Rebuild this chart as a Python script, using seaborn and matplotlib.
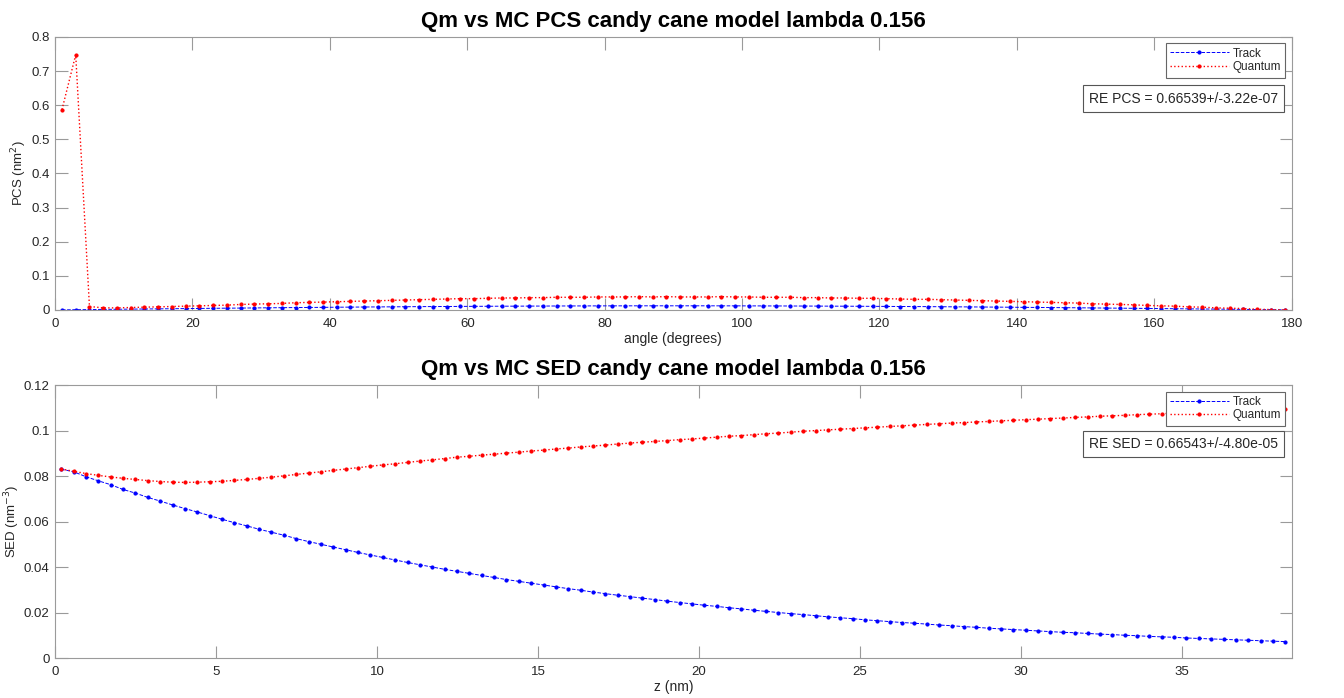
import numpy as np
import pandas as pd
import matplotlib
matplotlib.use('Agg')
import matplotlib.pyplot as plt
from matplotlib.ticker import FuncFormatter
import seaborn as sns

# ---- data ----
angle_deg = list(range(1, 180, 2))

pcs_track = [
    0.0002, 0.0006, 0.0010, 0.0015, 0.0019, 0.0023, 0.0027, 0.0031, 0.0035, 0.0039,
    0.0043, 0.0047, 0.0051, 0.0054, 0.0058, 0.0062, 0.0065, 0.0069, 0.0072, 0.0075,
    0.0079, 0.0082, 0.0085, 0.0088, 0.0090, 0.0093, 0.0096, 0.0098, 0.0100, 0.0103,
    0.0105, 0.0107, 0.0109, 0.0110, 0.0112, 0.0113, 0.0115, 0.0116, 0.0117, 0.0118,
    0.0119, 0.0119, 0.0120, 0.0120, 0.0120, 0.0120, 0.0120, 0.0120, 0.0119, 0.0119,
    0.0118, 0.0117, 0.0116, 0.0115, 0.0113, 0.0112, 0.0110, 0.0109, 0.0107, 0.0105,
    0.0103, 0.0100, 0.0098, 0.0096, 0.0093, 0.0090, 0.0088, 0.0085, 0.0082, 0.0079,
    0.0075, 0.0072, 0.0069, 0.0065, 0.0062, 0.0058, 0.0054, 0.0051, 0.0047, 0.0043,
    0.0039, 0.0035, 0.0031, 0.0027, 0.0023, 0.0019, 0.0015, 0.0010, 0.0006, 0.0002,
]

pcs_quantum = [
    0.587, 0.748, 0.010, 0.006, 0.006, 0.007, 0.008, 0.009, 0.010, 0.011,
    0.012, 0.013, 0.014, 0.016, 0.017, 0.018, 0.019, 0.021, 0.022, 0.023,
    0.024, 0.025, 0.026, 0.027, 0.028, 0.029, 0.030, 0.031, 0.032, 0.033,
    0.033, 0.034, 0.035, 0.035, 0.036, 0.036, 0.037, 0.037, 0.037, 0.038,
    0.038, 0.038, 0.039, 0.038, 0.039, 0.038, 0.038, 0.038, 0.039, 0.038,
    0.038, 0.037, 0.037, 0.037, 0.036, 0.036, 0.035, 0.035, 0.034, 0.034,
    0.033, 0.032, 0.031, 0.031, 0.030, 0.029, 0.028, 0.027, 0.026, 0.025,
    0.024, 0.023, 0.022, 0.021, 0.020, 0.018, 0.017, 0.016, 0.015, 0.013,
    0.012, 0.011, 0.009, 0.008, 0.006, 0.005, 0.004, 0.002, 0.001, 0.000,
]

# z grid: 100 bin centres, bin width 0.384 nm
z_nm = np.round(np.arange(100) * 0.384 + 0.192, 3)

sed_track = [
    0.0830, 0.0819, 0.0797, 0.0779, 0.0762, 0.0741, 0.0725, 0.0706, 0.0690, 0.0673,
    0.0657, 0.0642, 0.0626, 0.0610, 0.0595, 0.0581, 0.0566, 0.0553, 0.0540, 0.0525,
    0.0512, 0.0500, 0.0488, 0.0476, 0.0464, 0.0453, 0.0442, 0.0431, 0.0420, 0.0410,
    0.0400, 0.0390, 0.0381, 0.0372, 0.0363, 0.0354, 0.0345, 0.0337, 0.0329, 0.0321,
    0.0313, 0.0305, 0.0298, 0.0290, 0.0283, 0.0276, 0.0270, 0.0263, 0.0257, 0.0250,
    0.0244, 0.0238, 0.0232, 0.0227, 0.0221, 0.0216, 0.0210, 0.0205, 0.0200, 0.0195,
    0.0191, 0.0186, 0.0181, 0.0177, 0.0173, 0.0168, 0.0164, 0.0160, 0.0156, 0.0153,
    0.0149, 0.0145, 0.0142, 0.0138, 0.0135, 0.0131, 0.0128, 0.0125, 0.0122, 0.0119,
    0.0116, 0.0113, 0.0111, 0.0108, 0.0105, 0.0103, 0.0100, 0.0098, 0.0095, 0.0093,
    0.0091, 0.0088, 0.0086, 0.0084, 0.0082, 0.0080, 0.0078, 0.0076, 0.0074, 0.0072,
]

sed_quantum = [
    0.0831, 0.0821, 0.0811, 0.0803, 0.0796, 0.0790, 0.0785, 0.0780, 0.0776, 0.0773,
    0.0772, 0.0773, 0.0775, 0.0777, 0.0781, 0.0785, 0.0790, 0.0795, 0.0801, 0.0807,
    0.0813, 0.0819, 0.0825, 0.0831, 0.0837, 0.0843, 0.0849, 0.0854, 0.0860, 0.0866,
    0.0871, 0.0877, 0.0883, 0.0887, 0.0892, 0.0896, 0.0901, 0.0905, 0.0910, 0.0914,
    0.0919, 0.0923, 0.0928, 0.0932, 0.0936, 0.0941, 0.0945, 0.0949, 0.0952, 0.0956,
    0.0960, 0.0963, 0.0967, 0.0971, 0.0975, 0.0978, 0.0982, 0.0986, 0.0989, 0.0993,
    0.0997, 0.1000, 0.1003, 0.1006, 0.1009, 0.1012, 0.1015, 0.1018, 0.1021, 0.1024,
    0.1027, 0.1030, 0.1033, 0.1035, 0.1038, 0.1040, 0.1043, 0.1045, 0.1048, 0.1050,
    0.1053, 0.1055, 0.1058, 0.1060, 0.1063, 0.1065, 0.1067, 0.1070, 0.1072, 0.1074,
    0.1077, 0.1079, 0.1081, 0.1083, 0.1085, 0.1087, 0.1089, 0.1091, 0.1093, 0.1095,
]

pcs_note = 'RE PCS = 0.66539+/-3.22e-07'
sed_note = 'RE SED = 0.66543+/-4.80e-05'
title_pcs = 'Qm vs MC PCS candy cane model lambda 0.156'
title_sed = 'Qm vs MC SED candy cane model lambda 0.156'

# ---- style ----
sns.set_theme(style='white')
plt.rcParams['font.family'] = ['Liberation Sans', 'DejaVu Sans']
axis_grey = '#262626'
spine_grey = '#9a9a9a'

fig = plt.figure(figsize=(13.44, 6.98), dpi=100)
ax_top = fig.add_axes([0.041, 0.556, 0.920, 0.391])
ax_bot = fig.add_axes([0.041, 0.0573, 0.920, 0.391])

df_pcs = pd.DataFrame({'angle': angle_deg, 'Track': pcs_track, 'Quantum': pcs_quantum})
df_sed = pd.DataFrame({'z': z_nm, 'Track': sed_track, 'Quantum': sed_quantum})

track_kw = dict(color='blue', linestyle='--', linewidth=0.7, marker='.', markersize=4.5,
                markeredgecolor='blue', markerfacecolor='blue', label='Track')
quant_kw = dict(color='red', linestyle=':', linewidth=1.0, marker='.', markersize=4.5,
                markeredgecolor='red', markerfacecolor='red', label='Quantum')

sns.lineplot(data=df_pcs, x='angle', y='Track', ax=ax_top, **track_kw)
sns.lineplot(data=df_pcs, x='angle', y='Quantum', ax=ax_top, **quant_kw)
sns.lineplot(data=df_sed, x='z', y='Track', ax=ax_bot, **track_kw)
sns.lineplot(data=df_sed, x='z', y='Quantum', ax=ax_bot, **quant_kw)


def style_axes(ax, title, xlabel, ylabel, note, ylab_x, note_y):
    ax.set_title(title, fontsize=16, fontweight='bold', color='black', pad=7)
    ax.set_xlabel(xlabel, fontsize=10, color=axis_grey, labelpad=1)
    ax.set_ylabel(ylabel, fontsize=9.5, color=axis_grey)
    ax.yaxis.set_label_coords(ylab_x, 0.5)
    for sp in ax.spines.values():
        sp.set_color(spine_grey)
        sp.set_linewidth(0.8)
    ax.tick_params(direction='in', length=9, width=0.8, colors=spine_grey,
                   labelcolor=axis_grey, labelsize=9.5, top=True, right=True,
                   bottom=True, left=True, pad=4)
    ax.tick_params(axis='x', pad=6)
    ax.yaxis.set_major_formatter(FuncFormatter(lambda v, p: f'{v:g}'))
    leg = ax.legend(loc='upper right', fontsize=8.5, frameon=True, fancybox=False,
                    borderaxespad=0.55, handlelength=5.0, borderpad=0.35,
                    labelspacing=0.15, handletextpad=0.3)
    leg.get_frame().set_edgecolor('#666666')
    leg.get_frame().set_linewidth(0.8)
    leg.get_frame().set_alpha(1)
    ax.text(0.989, note_y, note, transform=ax.transAxes, ha='right', va='top',
            fontsize=10, color=axis_grey,
            bbox=dict(boxstyle='square,pad=0.45', fc='white', ec='#555555', lw=0.8))


ax_top.set_xlim(0, 180)
ax_top.set_ylim(0, 0.8)
ax_top.set_xticks(np.arange(0, 181, 20))
ax_top.set_yticks(np.arange(0, 0.81, 0.1))
style_axes(ax_top, title_pcs, 'angle (degrees)', 'PCS (nm$^2$)', pcs_note, -0.021, 0.80)

ax_bot.set_xlim(0, 38.4)
ax_bot.set_ylim(0, 0.12)
ax_bot.set_xticks(np.arange(0, 36, 5))
ax_bot.set_yticks(np.arange(0, 0.121, 0.02))
style_axes(ax_bot, title_sed, 'z (nm)', 'SED (nm$^{-3}$)', sed_note, -0.027, 0.81)

fig.savefig('out.png', dpi=100)
